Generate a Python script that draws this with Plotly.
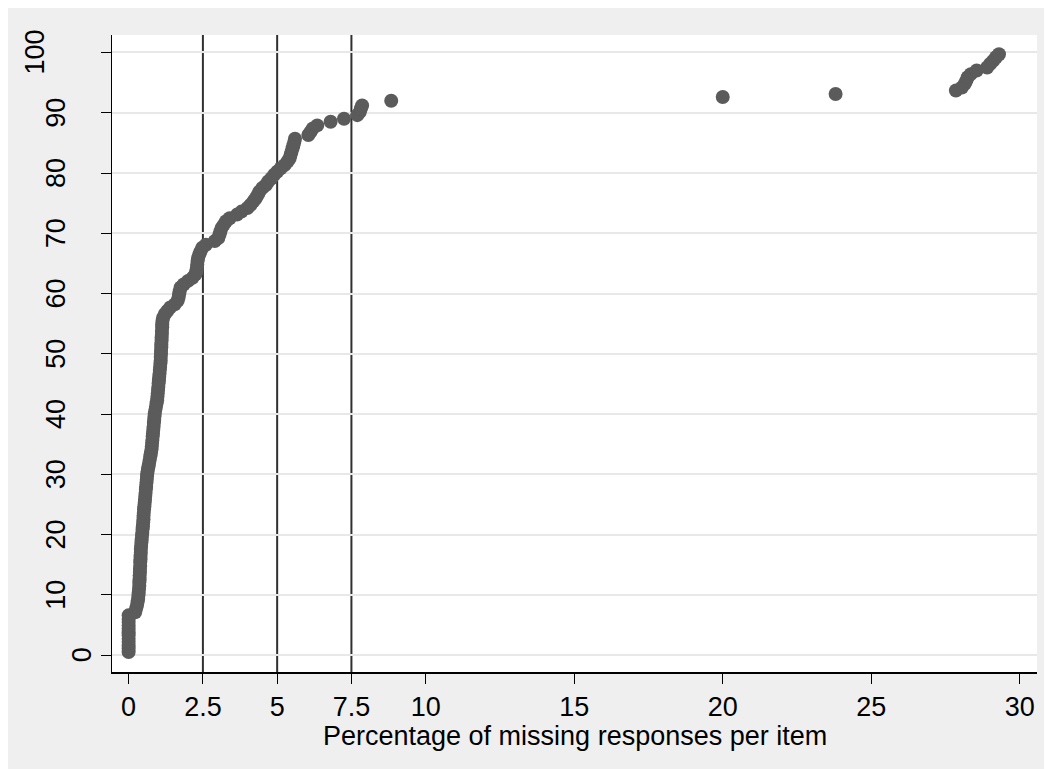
import plotly.graph_objects as go

# Percentage of missing responses per item (sorted) and cumulative percentage of items
missing_pct = [
    0, 0, 0, 0, 0, 0, 0, 0, 0, 0, 0, 0,
    0.22, 0.25, 0.28, 0.30, 0.32, 0.33, 0.34, 0.35, 0.36, 0.36, 0.37, 0.37, 0.38, 0.38,
    0.39, 0.39, 0.40, 0.40, 0.41, 0.41, 0.42, 0.43, 0.44, 0.45, 0.46, 0.47, 0.48, 0.49,
    0.50, 0.50, 0.51, 0.52, 0.53, 0.54, 0.55, 0.56, 0.57, 0.58, 0.59, 0.60, 0.61, 0.62,
    0.63, 0.65, 0.67, 0.69, 0.71, 0.73, 0.75, 0.77, 0.78, 0.79, 0.80, 0.81, 0.82, 0.83,
    0.84, 0.85, 0.86, 0.87, 0.88, 0.90, 0.92, 0.94, 0.96, 0.97, 0.98, 0.99, 1.00, 1.01,
    1.02, 1.03, 1.04, 1.05, 1.06, 1.07, 1.08, 1.08, 1.09, 1.09, 1.10, 1.10, 1.11, 1.11,
    1.12, 1.12, 1.13, 1.13, 1.14, 1.16, 1.22, 1.30, 1.40, 1.55, 1.65, 1.68, 1.70, 1.72,
    1.75, 1.85, 2.00, 2.15, 2.25, 2.28, 2.30, 2.31, 2.32, 2.34, 2.38, 2.42, 2.48, 2.60,
    2.90, 3.02, 3.06, 3.09, 3.13, 3.20, 3.28, 3.40, 3.65, 3.80, 4.00, 4.10, 4.20, 4.28,
    4.35, 4.40, 4.50, 4.62, 4.70, 4.80, 4.90, 5.00, 5.12, 5.25, 5.35, 5.42, 5.45, 5.48,
    5.52, 5.55, 5.58, 5.60, 6.05, 6.12, 6.20, 6.35, 6.80, 7.25, 7.70, 7.78, 7.82, 7.86,
    8.84, 20.0, 23.8, 27.85, 28.05, 28.15, 28.20, 28.25, 28.35, 28.55, 28.90, 29.00,
    29.10, 29.20, 29.30,
]
cum_pct_items = [
    0.5, 1.1, 1.6, 2.2, 2.7, 3.3, 3.8, 4.4, 4.9, 5.5, 6.0, 6.6,
    7.1, 7.7, 8.2, 8.8, 9.3, 9.9, 10.4, 11.0, 11.5, 12.1, 12.6, 13.2, 13.7, 14.3,
    14.8, 15.4, 15.9, 16.5, 17.0, 17.6, 18.1, 18.7, 19.2, 19.8, 20.3, 20.9, 21.4, 22.0,
    22.5, 23.1, 23.6, 24.2, 24.7, 25.3, 25.8, 26.4, 26.9, 27.5, 28.0, 28.6, 29.1, 29.7,
    30.2, 30.8, 31.3, 31.9, 32.4, 33.0, 33.5, 34.1, 34.6, 35.2, 35.7, 36.3, 36.8, 37.4,
    37.9, 38.5, 39.0, 39.6, 40.1, 40.7, 41.2, 41.8, 42.3, 42.9, 43.4, 44.0, 44.5, 45.1,
    45.6, 46.2, 46.7, 47.3, 47.8, 48.4, 48.9, 49.5, 50.0, 50.5, 51.1, 51.6, 52.2, 52.7,
    53.3, 53.8, 54.4, 54.9, 55.5, 56.0, 56.6, 57.1, 57.7, 58.2, 58.8, 59.3, 59.9, 60.4,
    61.0, 61.5, 62.1, 62.6, 63.2, 63.7, 64.3, 64.8, 65.4, 65.9, 66.5, 67.0, 67.6, 68.1,
    68.7, 69.2, 69.8, 70.3, 70.9, 71.4, 72.0, 72.5, 73.1, 73.6, 74.2, 74.7, 75.3, 75.8,
    76.4, 76.9, 77.5, 78.0, 78.6, 79.1, 79.7, 80.2, 80.8, 81.3, 81.9, 82.4, 83.0, 83.5,
    84.1, 84.6, 85.2, 85.7, 86.3, 86.8, 87.4, 87.9, 88.5, 89.0, 89.6, 90.1, 90.7, 91.2,
    92.0, 92.6, 93.1, 93.7, 94.2, 94.8, 95.3, 95.9, 96.4, 97.0, 97.5, 98.1,
    98.6, 99.2, 99.7,
]

x_tick_vals = [0, 2.5, 5, 7.5, 10, 15, 20, 25, 30]
x_tick_text = ["0", "2.5", "5", "7.5", "10", "15", "20", "25", "30"]
y_tick_vals = [0, 10, 20, 30, 40, 50, 60, 70, 80, 90, 100]
reference_lines = [2.5, 5, 7.5]
x_title = "Percentage of missing responses per item"

FONT = "Liberation Sans, Arial, sans-serif"
FS = 27
ML, MR, MT, MB = 104, 23, 27, 105
PLOT_W = 1052 - ML - MR
PLOT_H = 769 - MT - MB

fig = go.Figure()
fig.add_trace(go.Scatter(
    x=missing_pct, y=cum_pct_items, mode="markers",
    marker=dict(color="#5b5b5b", size=14, line=dict(width=0)),
    showlegend=False, hoverinfo="x+y",
))

for xv in reference_lines:
    fig.add_shape(type="line", xref="x", yref="paper", x0=xv, x1=xv, y0=0, y1=1,
                  line=dict(color="#303030", width=2), layer="below")

# rotated y tick labels (positioned as in the reference: shorter labels sit closer to the axis)
label_center_px = {1: 74, 2: 48, 3: 27}
for v in y_tick_vals:
    s = str(v)
    fig.add_annotation(
        text=s, xref="paper", yref="y",
        x=(label_center_px[len(s)] - ML) / PLOT_W, y=v,
        xanchor="center", yanchor="middle", textangle=-90,
        showarrow=False, font=dict(family=FONT, size=FS, color="black"),
    )

# x-axis title
fig.add_annotation(
    text=x_title, xref="paper", yref="paper", x=0.5, y=-64 / PLOT_H,
    xanchor="center", yanchor="middle", showarrow=False,
    font=dict(family=FONT, size=FS, color="black"),
)

fig.update_layout(
    width=1052, height=769,
    margin=dict(l=ML, r=MR, t=MT, b=MB),
    paper_bgcolor="#efefef", plot_bgcolor="white",
    font=dict(family=FONT, size=FS, color="black"),
    xaxis=dict(
        range=[-0.56, 30.58], tickvals=x_tick_vals, ticktext=x_tick_text,
        ticks="outside", ticklen=10, tickwidth=1, tickcolor="black",
        showline=True, linecolor="black", linewidth=2,
        showgrid=False, zeroline=False,
        tickfont=dict(size=FS),
    ),
    yaxis=dict(
        range=[-2.8, 102.9], tickvals=y_tick_vals, showticklabels=False,
        ticks="outside", ticklen=10, tickwidth=1, tickcolor="black",
        showline=True, linecolor="black", linewidth=1,
        showgrid=True, gridcolor="#e8e8e8", gridwidth=2,
        zeroline=False,
    ),
)

fig.write_html("out.html")
